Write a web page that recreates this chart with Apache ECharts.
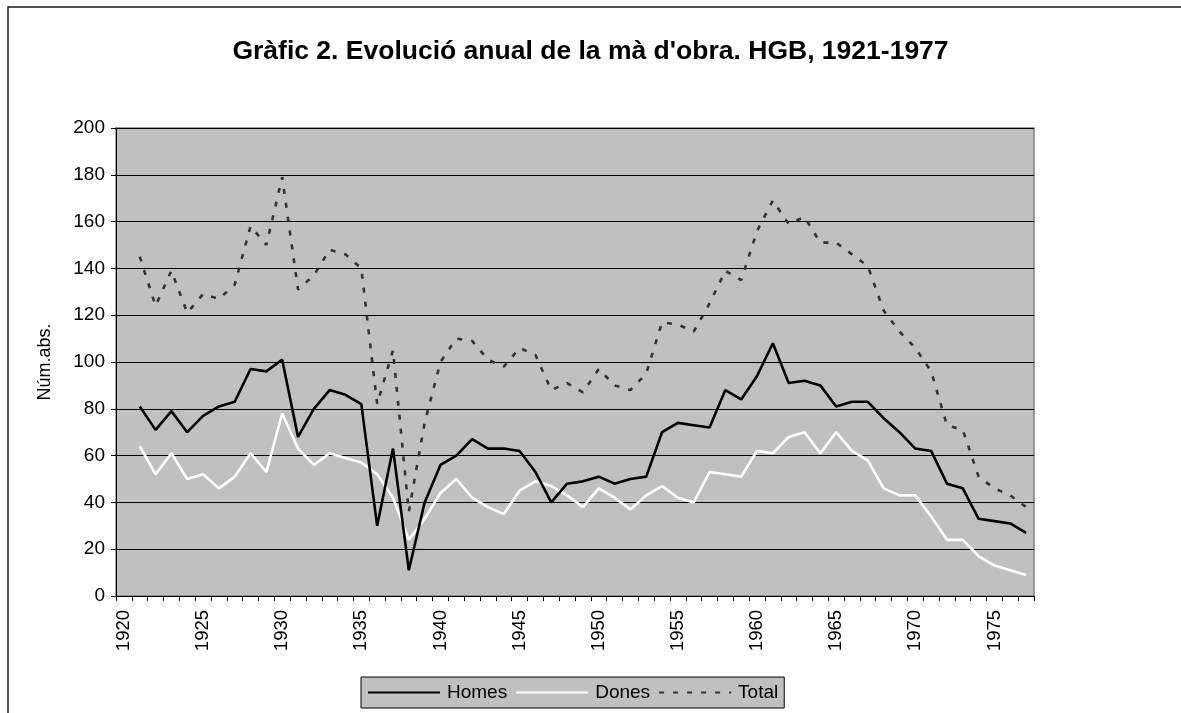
<!DOCTYPE html>
<html>
<head>
<meta charset="utf-8">
<script src="https://cdn.jsdelivr.net/npm/echarts@6/dist/echarts.min.js"></script>
<style>
html,body{margin:0;padding:0;background:#fff;}
#chart{width:1181px;height:713px;}
</style>
</head>
<body>
<div id="chart"></div>
<script>
const years = ['1920','1921','1922','1923','1924','1925','1926','1927','1928','1929',
  '1930','1931','1932','1933','1934','1935','1936','1937','1938','1939',
  '1940','1941','1942','1943','1944','1945','1946','1947','1948','1949',
  '1950','1951','1952','1953','1954','1955','1956','1957','1958','1959',
  '1960','1961','1962','1963','1964','1965','1966','1967','1968','1969',
  '1970','1971','1972','1973','1974','1975','1976','1977'];

const homes = [null, 81, 71, 79, 70, 77, 81, 83, 97, 96,
  101, 68, 80, 88, 86, 82, 30, 63, 11, 40,
  56, 60, 67, 63, 63, 62, 53, 40, 48, 49,
  51, 48, 50, 51, 70, 74, 73, 72, 88, 84,
  94, 108, 91, 92, 90, 81, 83, 83, 76, 70,
  63, 62, 48, 46, 33, 32, 31, 27];

const dones = [null, 64, 52, 61, 50, 52, 46, 51, 61, 53,
  78, 63, 56, 61, 59, 57, 52, 42, 24, 33,
  44, 50, 42, 38, 35, 45, 49, 47, 43, 38,
  46, 42, 37, 43, 47, 42, 40, 53, 52, 51,
  62, 61, 68, 70, 61, 70, 62, 58, 46, 43,
  43, 34, 24, 24, 17, 13, 11, 9];

const total = [null, 145, 124, 139, 121, 129, 127, 133, 158, 150,
  179, 131, 137, 148, 146, 140, 82, 105, 36, 74,
  100, 110, 109, 101, 98, 106, 103, 88, 91, 87,
  97, 90, 88, 95, 117, 116, 113, 125, 139, 135,
  156, 169, 159, 162, 151, 151, 146, 141, 122, 113,
  106, 96, 73, 71, 51, 46, 43, 38];

const yTicks = {min: 0, max: 200, interval: 20};

const FONT = 'Liberation Sans, Arial, sans-serif';
const chart = echarts.init(document.getElementById('chart'), null, {renderer: 'canvas'});

chart.setOption({
  animation: false,
  backgroundColor: '#ffffff',
  textStyle: {fontFamily: FONT, color: '#000'},
  graphic: [{
    type: 'rect',
    shape: {x: 8, y: 7, width: 1300, height: 900},
    style: {fill: 'none', stroke: '#1a1a1a', lineWidth: 1.5},
    silent: true,
    z: -1
  }],
  title: {
    text: 'Gràfic 2. Evolució anual de la mà d\'obra. HGB, 1921-1977',
    left: 'center',
    top: 33,
    textStyle: {fontFamily: FONT, fontSize: 26.5, fontWeight: 'bold', color: '#000'}
  },
  grid: {
    left: 116, top: 128, right: 147, bottom: 117,
    show: true,
    backgroundColor: '#c0c0c0',
    borderColor: '#808080',
    borderWidth: 1.5
  },
  legend: {
    left: 361,
    top: 677,
    orient: 'horizontal',
    backgroundColor: '#c0c0c0',
    borderColor: '#000',
    borderWidth: 1,
    borderRadius: 0,
    padding: [6, 6, 6, 6],
    itemWidth: 72,
    itemHeight: 22,
    itemGap: 8,
    itemStyle: {opacity: 0},
    textStyle: {fontFamily: FONT, fontSize: 19, color: '#000', padding: [0, 0, 0, 2]},
    data: ['Homes', 'Dones', 'Total']
  },
  xAxis: {
    type: 'category',
    data: years,
    boundaryGap: true,
    axisLine: {show: true, lineStyle: {color: '#000', width: 1}},
    axisTick: {show: true, interval: 0, length: 5, lineStyle: {color: '#000'}},
    axisLabel: {interval: 4, rotate: 90, margin: 14, fontFamily: FONT, fontSize: 18.5, color: '#000'},
    splitLine: {show: false}
  },
  yAxis: {
    type: 'value',
    min: yTicks.min, max: yTicks.max, interval: yTicks.interval,
    name: 'Núm.abs.',
    nameLocation: 'middle',
    nameGap: 62,
    nameRotate: 90,
    nameTextStyle: {fontFamily: FONT, fontSize: 18, color: '#000'},
    axisLine: {show: true, lineStyle: {color: '#000', width: 1}},
    axisTick: {show: true, length: 5, lineStyle: {color: '#000'}},
    axisLabel: {margin: 11, fontFamily: FONT, fontSize: 19, color: '#000'},
    splitLine: {show: true, lineStyle: {color: '#000', width: 1}}
  },
  series: [
    {
      name: 'Homes', type: 'line', data: homes, symbol: 'none', connectNulls: false,
      lineStyle: {color: '#000', width: 2.6}, itemStyle: {color: '#000'}, z: 3
    },
    {
      name: 'Dones', type: 'line', data: dones, symbol: 'none',
      lineStyle: {color: '#fff', width: 2.6}, itemStyle: {color: '#fff'}, z: 2
    },
    {
      name: 'Total', type: 'line', data: total, symbol: 'none',
      lineStyle: {color: '#333', width: 2.6, type: [5, 9]}, itemStyle: {color: '#333'}, z: 4
    }
  ]
});
</script>
</body>
</html>
